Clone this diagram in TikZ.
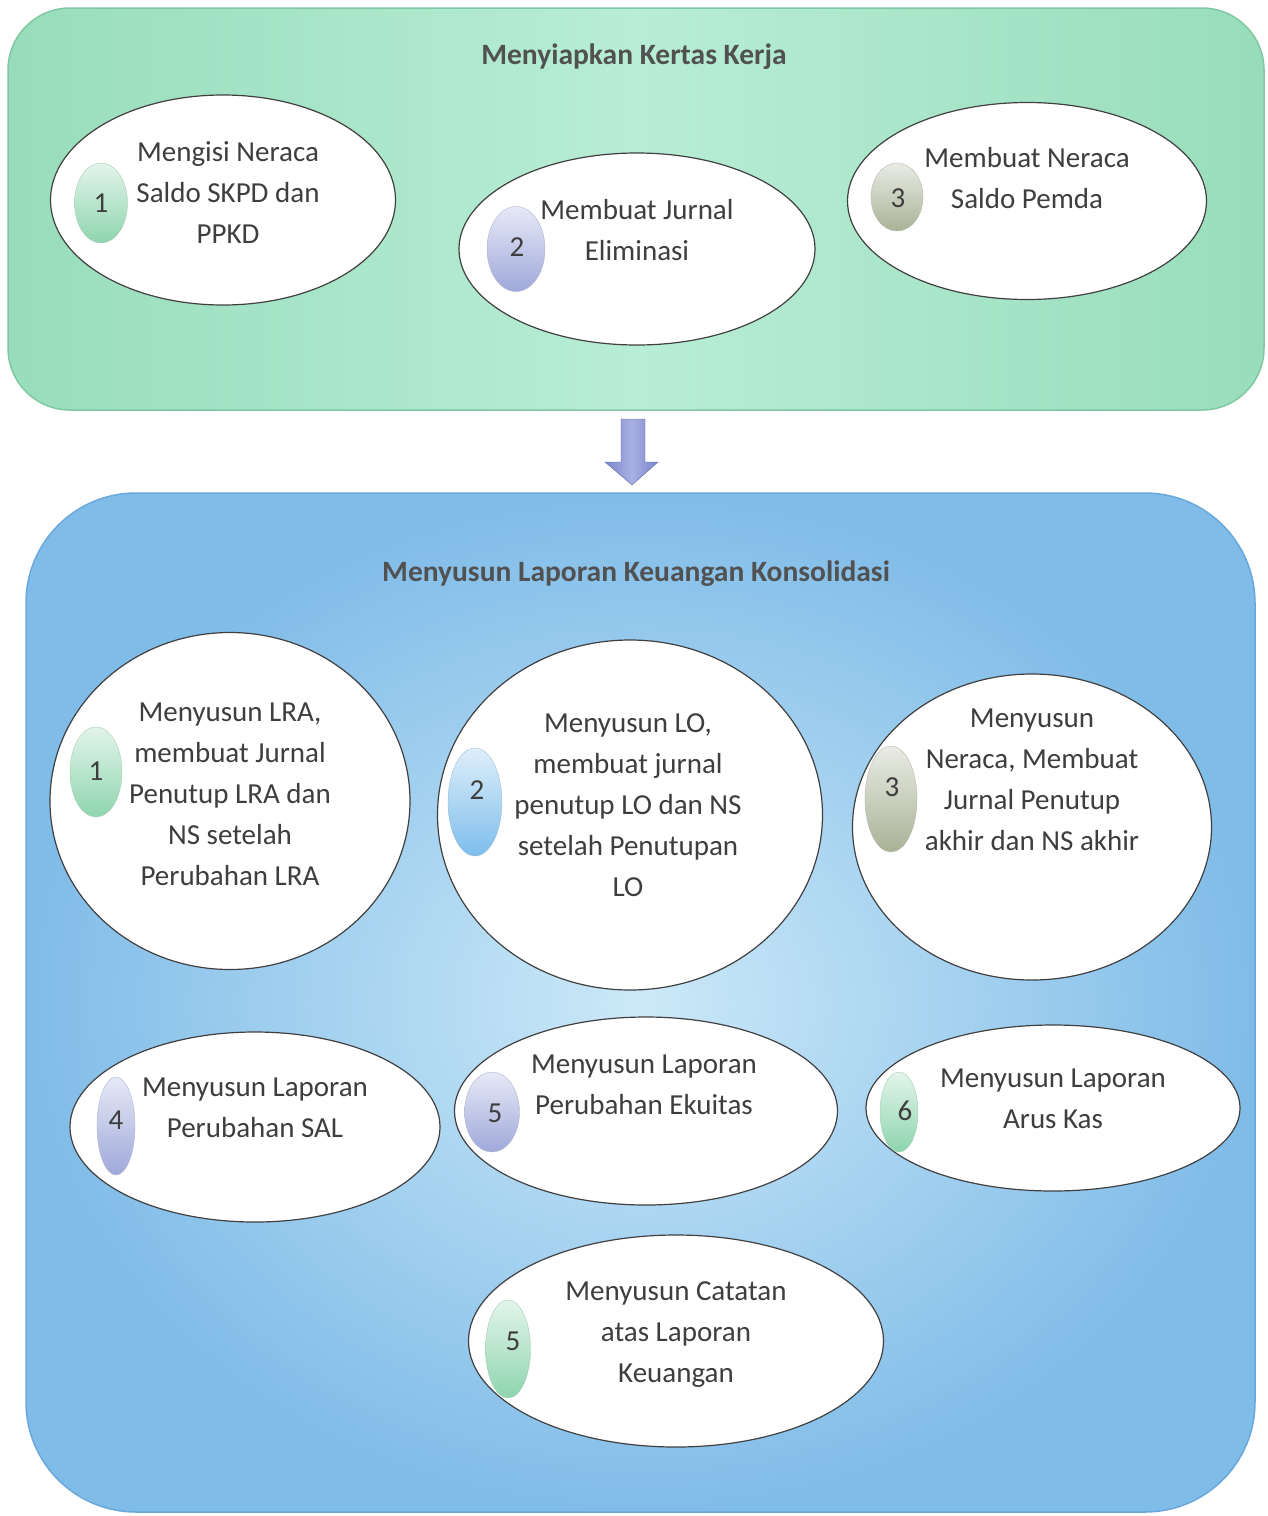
\documentclass[tikz,border=0pt]{standalone}
\usepackage{fontspec}
\setmainfont{Carlito}
\usetikzlibrary{shapes.geometric}
\definecolor{ink}{HTML}{3E3E3E}
\definecolor{mintA}{HTML}{98DDBB}
\definecolor{mintB}{HTML}{B8EDD6}
\definecolor{mintLine}{HTML}{80C8A2}
\definecolor{skyA}{HTML}{80BCE8}
\definecolor{skyB}{HTML}{CCE9F8}
\definecolor{skyLine}{HTML}{6AA8DC}
\definecolor{arrowA}{HTML}{7A86CC}
\definecolor{arrowB}{HTML}{A9B0E2}
% badge tints
\definecolor{bgreen}{HTML}{8ED5AE}
\definecolor{blav}{HTML}{9FA8DA}
\definecolor{bblue}{HTML}{7DBDEB}
\definecolor{bolive}{HTML}{A9B296}
\begin{document}
\begin{tikzpicture}[x=1pt,y=-1pt,
  bubble/.style={draw=black!75, line width=1.2pt, fill=white, ellipse, inner sep=0pt},
  body/.style={text=ink, align=center, inner sep=0pt,
    font=\fontsize{29}{41}\selectfont},
  heading/.style={text=ink!90, inner sep=0pt, font=\fontsize{29.5}{33}\selectfont\bfseries},
  badge/.style={ellipse, inner sep=0pt, draw=#1!80!black!60, line width=0.4pt,
    top color=#1!25!white, bottom color=#1},
  num/.style={text=ink, inner sep=0pt, font=\fontsize{29}{32}\selectfont}]
\useasboundingbox (0,0) rectangle (1267,1516);
\fill[white] (0,0) rectangle (1267,1516);

% --- upper panel: working papers ---
\draw[draw=mintLine, line width=1.5pt, rounded corners=62pt,
  left color=mintA, right color=mintA, middle color=mintB]
  (8,8) rectangle (1264,410);
\node[heading] (h1) at (634,57) {Menyiapkan Kertas Kerja};

\node[bubble, minimum width=345, minimum height=210] (p1) at (223,200) {};
\node[bubble, minimum width=356, minimum height=192] (p2) at (637,249) {};
\node[bubble, minimum width=359, minimum height=197] (p3) at (1027,201) {};

\node[badge=bgreen, minimum width=53, minimum height=80] (bp1) at (101,203) {};
\node[num] (np1) at (101,203) {1};
\node[badge=blav, minimum width=58, minimum height=85] (bp2) at (516,249) {};
\node[num] (np2) at (517,247) {2};
\node[badge=bolive, minimum width=52, minimum height=68] (bp3) at (897,197) {};
\node[num] (np3) at (898,198) {3};

\node[body] (tp1) at (228,193) {Mengisi Neraca\\Saldo SKPD dan\\PPKD};
\node[body] (tp2) at (637,230) {Membuat Jurnal\\Eliminasi};
\node[body] (tp3) at (1027,178) {Membuat Neraca\\Saldo Pemda};

% --- block arrow between the panels ---
\path[left color=arrowA, right color=arrowA, middle color=arrowB, draw=arrowA!80!black, line width=0.4pt]
  (621,419) -- (645,419) -- (645,462) -- (658,462) -- (632,485)
  -- (605,462) -- (621,462) -- cycle;

% --- lower panel: consolidated report ---
\draw[draw=skyLine, line width=1.5pt, rounded corners=110pt,
  inner color=skyB, outer color=skyA]
  (26,493) rectangle (1255,1512);
\node[heading] (h2) at (636,574) {Menyusun Laporan Keuangan Konsolidasi};

\node[bubble, minimum width=360, minimum height=337] (q1) at (230,801) {};
\node[bubble, minimum width=385, minimum height=350] (q2) at (630,815) {};
\node[bubble, minimum width=359, minimum height=306] (q3) at (1032,827) {};
\node[bubble, minimum width=370, minimum height=190] (q4) at (255,1127) {};
\node[bubble, minimum width=383, minimum height=188] (q5) at (646,1111) {};
\node[bubble, minimum width=374, minimum height=166] (q6) at (1053,1108) {};
\node[bubble, minimum width=415, minimum height=212] (q7) at (676,1341) {};

\node[badge=bgreen, minimum width=52, minimum height=90] (bq1) at (96,772) {};
\node[num] (nq1) at (96,771) {1};
\node[badge=bblue, minimum width=54, minimum height=108] (bq2) at (475,802) {};
\node[num] (nq2) at (477,790) {2};
\node[badge=bolive, minimum width=52, minimum height=106] (bq3) at (891,799) {};
\node[num] (nq3) at (892,787) {3};
\node[badge=blav, minimum width=38, minimum height=98] (bq4) at (116,1126) {};
\node[num] (nq4) at (116,1120) {4};
\node[badge=blav, minimum width=55, minimum height=80] (bq5) at (492,1112) {};
\node[num] (nq5) at (495,1113) {5};
\node[badge=bgreen, minimum width=38, minimum height=80] (bq6) at (899,1112) {};
\node[num] (nq6) at (905,1111) {6};
\node[badge=bgreen, minimum width=45, minimum height=98] (bq7) at (508,1349) {};
\node[num] (nq7) at (513,1341) {5};

\node[body] (tq1) at (230,794) {Menyusun LRA,\\membuat Jurnal\\Penutup LRA dan\\NS setelah\\Perubahan LRA};
\node[body] (tq2) at (628,805) {Menyusun LO,\\membuat jurnal\\penutup LO dan NS\\setelah Penutupan\\LO};
\node[body] (tq3) at (1032,780) {Menyusun\\Neraca, Membuat\\Jurnal Penutup\\akhir dan NS akhir};
\node[body] (tq4) at (255,1108) {Menyusun Laporan\\Perubahan SAL};
\node[body] (tq5) at (644,1085) {Menyusun Laporan\\Perubahan Ekuitas};
\node[body] (tq6) at (1053,1099) {Menyusun Laporan\\Arus Kas};
\node[body] (tq7) at (676,1335) {Menyusun Catatan\\atas Laporan\\Keuangan};
\end{tikzpicture}
\end{document}
